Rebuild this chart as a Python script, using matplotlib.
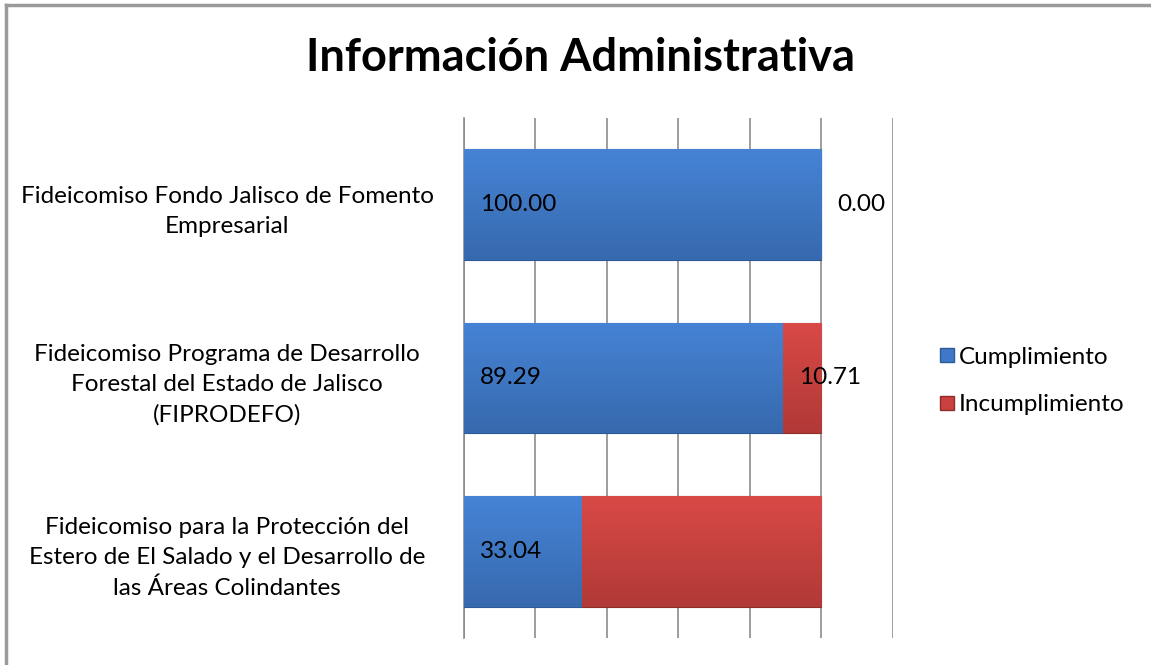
import numpy as np
import matplotlib
matplotlib.use("Agg")
import matplotlib.pyplot as plt
from matplotlib.lines import Line2D
from matplotlib.colors import to_rgb

plt.rcParams['font.family'] = ['Lato', 'DejaVu Sans']

# datos
categorias = [
    "Fideicomiso Fondo Jalisco de Fomento\nEmpresarial",
    "Fideicomiso Programa de Desarrollo\nForestal del Estado de Jalisco\n(FIPRODEFO)",
    "Fideicomiso para la Protección del\nEstero de El Salado y el Desarrollo de\nlas Áreas Colindantes",
]
cumplimiento = [100.00, 89.29, 33.04]
incumplimiento = [0.00, 10.71, 66.96]
mostrar_inc = [True, True, False]
series = ["Cumplimiento", "Incumplimiento"]

azul = "#3e78c6"
rojo = "#c9413e"

fig = plt.figure(figsize=(11.51, 6.65), dpi=100)
ax = fig.add_axes([0.4031, 0.0406, 0.3727, 0.782])

y = np.arange(len(categorias))
b1 = ax.barh(y, cumplimiento, height=0.64, color=azul, edgecolor="#2c5a96", linewidth=0.8, zorder=3)
b2 = ax.barh(y, incumplimiento, left=cumplimiento, height=0.64, color=rojo, edgecolor="#8e2c2a", linewidth=0.8, zorder=3)

# degradado vertical suave dentro de cada barra
def degradado(barras, color):
    c = np.array(to_rgb(color))
    claro = np.clip(c * 1.05 + 0.02, 0, 1)
    oscuro = c * 0.88
    t = np.linspace(0, 1, 64)[:, None]
    grad = claro * (1 - t) + oscuro * t
    grad = grad[:, None, :]
    for p in barras:
        if p.get_width() <= 0:
            continue
        x0, y0 = p.get_x(), p.get_y()
        im = ax.imshow(grad, extent=[x0, x0 + p.get_width(), y0, y0 + p.get_height()],
                       aspect="auto", zorder=3.5, origin="lower")
        im.set_clip_path(p)

degradado(b1, azul)
degradado(b2, rojo)

ax.set_xlim(0, 120)
ax.set_ylim(2.5, -0.5)
ax.set_xticks(np.arange(0, 121, 20))
ax.set_xticklabels([])
ax.tick_params(axis="x", length=0)
ax.tick_params(axis="y", length=0)
ax.grid(axis="x", color="#8c8c8c", linewidth=1.2, zorder=0)
for s in ["top", "right", "bottom"]:
    ax.spines[s].set_visible(False)
ax.spines["left"].set_color("#8c8c8c")
ax.spines["left"].set_linewidth(1.2)

ax.set_yticks(y)
ax.set_yticklabels(categorias, fontsize=17.5, ha="center", linespacing=1.55)
for lbl in ax.get_yticklabels():
    lbl.set_x(-0.541)

# etiquetas de datos (base interior)
for i in range(len(categorias)):
    ax.text(4.5, y[i], f"{cumplimiento[i]:.2f}", va="center", ha="left",
            fontsize=17.5, zorder=5)
    if mostrar_inc[i]:
        ax.text(cumplimiento[i] + 4.5, y[i], f"{incumplimiento[i]:.2f}",
                va="center", ha="left", fontsize=17.5, zorder=5)

fig.text(0.504, 0.913, "Información Administrativa", ha="center", va="center",
         fontsize=32.5, fontweight="bold")

handles = [Line2D([], [], marker="s", linestyle="none", markersize=10,
                  markerfacecolor=azul, markeredgecolor="#2c5a96"),
           Line2D([], [], marker="s", linestyle="none", markersize=10,
                  markerfacecolor=rojo, markeredgecolor="#8e2c2a")]
fig.legend(handles, series, loc="center left", bbox_to_anchor=(0.808, 0.427),
           frameon=False, fontsize=17.5, handlelength=0.6, handletextpad=0.2,
           labelspacing=1.1, borderaxespad=0)

# marco del gráfico
fig.add_artist(Line2D([0.0052, 0.0052], [0, 0.9925], color="#9a9a9a", linewidth=2.5,
                      transform=fig.transFigure))
fig.add_artist(Line2D([0.0052, 1], [0.9925, 0.9925], color="#9a9a9a", linewidth=2.5,
                      transform=fig.transFigure))

fig.savefig("out.png", dpi=100)
